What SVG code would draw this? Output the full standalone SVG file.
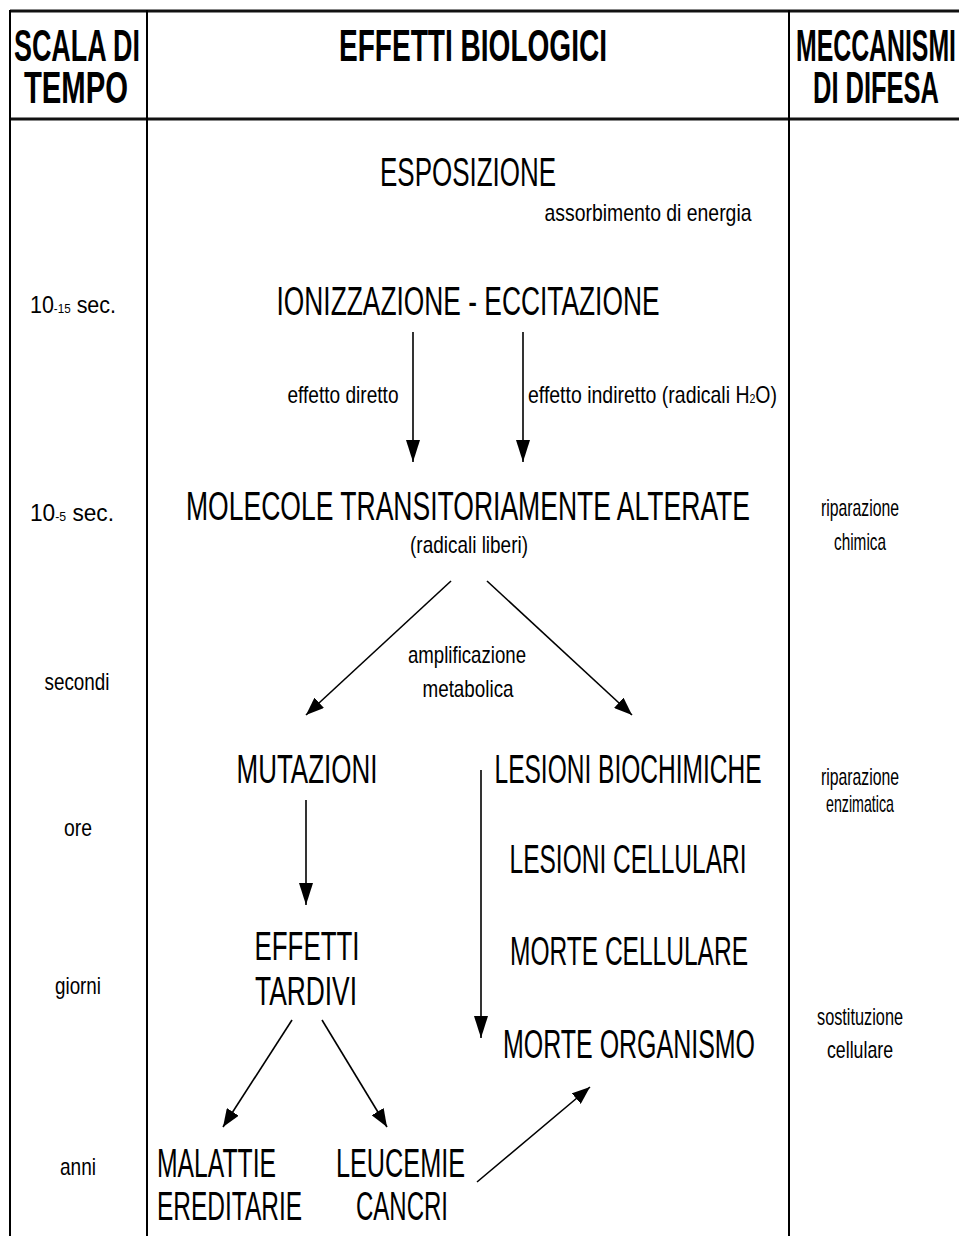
<svg xmlns="http://www.w3.org/2000/svg" width="959" height="1236" viewBox="0 0 959 1236">
<style>
.hd{font-family:"Liberation Sans Narrow","Liberation Sans",Arial,sans-serif;font-weight:bold;font-size:44px;fill:#000}
.big{font-family:"Liberation Sans Narrow","Liberation Sans",Arial,sans-serif;font-size:40px;fill:#000}
.sm{font-family:"Liberation Sans Narrow","Liberation Sans",Arial,sans-serif;font-size:24px;fill:#000}
.grid{stroke:#000;stroke-width:2;fill:none}
.hl{stroke:#111;stroke-width:3;fill:none}
.conn{stroke:#000;stroke-width:1.6;fill:none}
</style>
<defs>
<marker id="ah" markerUnits="userSpaceOnUse" markerWidth="22" markerHeight="14" refX="22" refY="7" orient="auto">
<path d="M0,0 L22,7 L0,14 z" fill="#000"/>
</marker>
<marker id="ahs" markerUnits="userSpaceOnUse" markerWidth="18" markerHeight="14" refX="18" refY="7" orient="auto">
<path d="M0,0 L18,7 L0,14 z" fill="#000"/>
</marker>
</defs>
<rect width="959" height="1236" fill="#fff"/>
<g id="table">
<line class="hl" x1="10" y1="11" x2="959" y2="11"/>
<line class="hl" x1="10" y1="119" x2="959" y2="119"/>
<line class="grid" x1="10" y1="10" x2="10" y2="1236"/>
<line class="grid" x1="147" y1="10" x2="147" y2="1236"/>
<line class="grid" x1="789" y1="10" x2="789" y2="1236"/>
</g>
<g id="headers">
<text class="hd" x="77" y="61" text-anchor="middle" textLength="126" lengthAdjust="spacingAndGlyphs">SCALA DI</text>
<text class="hd" x="76" y="103" text-anchor="middle" textLength="104" lengthAdjust="spacingAndGlyphs">TEMPO</text>
<text class="hd" x="473" y="61" text-anchor="middle" textLength="268" lengthAdjust="spacingAndGlyphs">EFFETTI BIOLOGICI</text>
<text class="hd" x="876" y="61" text-anchor="middle" textLength="160" lengthAdjust="spacingAndGlyphs">MECCANISMI</text>
<text class="hd" x="876" y="103" text-anchor="middle" textLength="126" lengthAdjust="spacingAndGlyphs">DI DIFESA</text>
</g>
<g id="timescale">
<text class="sm" x="73" y="313" text-anchor="middle" textLength="86" lengthAdjust="spacingAndGlyphs">10<tspan font-size="13">-15</tspan> sec.</text>
<text class="sm" x="72" y="521" text-anchor="middle" textLength="84" lengthAdjust="spacingAndGlyphs">10<tspan font-size="13">-5</tspan> sec.</text>
<text class="sm" x="77" y="690" text-anchor="middle" textLength="65" lengthAdjust="spacingAndGlyphs">secondi</text>
<text class="sm" x="78" y="836" text-anchor="middle" textLength="28" lengthAdjust="spacingAndGlyphs">ore</text>
<text class="sm" x="78" y="994" text-anchor="middle" textLength="46" lengthAdjust="spacingAndGlyphs">giorni</text>
<text class="sm" x="78" y="1175" text-anchor="middle" textLength="36" lengthAdjust="spacingAndGlyphs">anni</text>
</g>
<g id="defense">
<text class="sm" x="860" y="516" text-anchor="middle" textLength="78" lengthAdjust="spacingAndGlyphs">riparazione</text>
<text class="sm" x="860" y="550" text-anchor="middle" textLength="52" lengthAdjust="spacingAndGlyphs">chimica</text>
<text class="sm" x="860" y="785" text-anchor="middle" textLength="78" lengthAdjust="spacingAndGlyphs">riparazione</text>
<text class="sm" x="860" y="812" text-anchor="middle" textLength="68" lengthAdjust="spacingAndGlyphs">enzimatica</text>
<text class="sm" x="860" y="1025" text-anchor="middle" textLength="86" lengthAdjust="spacingAndGlyphs">sostituzione</text>
<text class="sm" x="860" y="1058" text-anchor="middle" textLength="66" lengthAdjust="spacingAndGlyphs">cellulare</text>
</g>
<g id="n-esposizione"><text class="big" x="468" y="186" text-anchor="middle" textLength="176" lengthAdjust="spacingAndGlyphs">ESPOSIZIONE</text></g>
<g id="n-assorbimento"><text class="sm" x="648" y="221" text-anchor="middle" textLength="207" lengthAdjust="spacingAndGlyphs">assorbimento di energia</text></g>
<g id="n-ionizzazione"><text class="big" x="468" y="315" text-anchor="middle" textLength="383" lengthAdjust="spacingAndGlyphs">IONIZZAZIONE - ECCITAZIONE</text></g>
<g id="n-diretto"><text class="sm" x="343" y="403" text-anchor="middle" textLength="111" lengthAdjust="spacingAndGlyphs">effetto diretto</text></g>
<g id="n-indiretto"><text class="sm" x="528" y="403" textLength="249" lengthAdjust="spacingAndGlyphs">effetto indiretto (radicali H<tspan font-size="13">2</tspan>O)</text></g>
<g id="n-molecole">
<text class="big" x="468" y="520" text-anchor="middle" textLength="564" lengthAdjust="spacingAndGlyphs">MOLECOLE TRANSITORIAMENTE ALTERATE</text>
<text class="sm" x="469" y="553" text-anchor="middle" textLength="118" lengthAdjust="spacingAndGlyphs">(radicali liberi)</text>
</g>
<g id="n-amplificazione">
<text class="sm" x="467" y="663" text-anchor="middle" textLength="118" lengthAdjust="spacingAndGlyphs">amplificazione</text>
<text class="sm" x="468" y="697" text-anchor="middle" textLength="91" lengthAdjust="spacingAndGlyphs">metabolica</text>
</g>
<g id="n-mutazioni"><text class="big" x="307" y="783" text-anchor="middle" textLength="141" lengthAdjust="spacingAndGlyphs">MUTAZIONI</text></g>
<g id="n-lesioni-bio"><text class="big" x="628" y="783" text-anchor="middle" textLength="267" lengthAdjust="spacingAndGlyphs">LESIONI BIOCHIMICHE</text></g>
<g id="n-lesioni-cell"><text class="big" x="628" y="873" text-anchor="middle" textLength="237" lengthAdjust="spacingAndGlyphs">LESIONI CELLULARI</text></g>
<g id="n-morte-cell"><text class="big" x="629" y="965" text-anchor="middle" textLength="238" lengthAdjust="spacingAndGlyphs">MORTE CELLULARE</text></g>
<g id="n-morte-org"><text class="big" x="629" y="1058" text-anchor="middle" textLength="252" lengthAdjust="spacingAndGlyphs">MORTE ORGANISMO</text></g>
<g id="n-tardivi">
<text class="big" x="307" y="960" text-anchor="middle" textLength="105" lengthAdjust="spacingAndGlyphs">EFFETTI</text>
<text class="big" x="306" y="1005" text-anchor="middle" textLength="102" lengthAdjust="spacingAndGlyphs">TARDIVI</text>
</g>
<g id="n-malattie">
<text class="big" x="157" y="1177" textLength="119" lengthAdjust="spacingAndGlyphs">MALATTIE</text>
<text class="big" x="157" y="1220" textLength="145" lengthAdjust="spacingAndGlyphs">EREDITARIE</text>
</g>
<g id="n-leucemie">
<text class="big" x="336" y="1177" textLength="129" lengthAdjust="spacingAndGlyphs">LEUCEMIE</text>
<text class="big" x="356" y="1220" textLength="92" lengthAdjust="spacingAndGlyphs">CANCRI</text>
</g>
<g id="connectors">
<line class="conn" x1="413" y1="332" x2="413" y2="462" marker-end="url(#ah)"/>
<line class="conn" x1="523" y1="332" x2="523" y2="462" marker-end="url(#ah)"/>
<line class="conn" x1="451" y1="581" x2="306" y2="715" marker-end="url(#ahs)"/>
<line class="conn" x1="487" y1="581" x2="632" y2="715" marker-end="url(#ahs)"/>
<line class="conn" x1="306" y1="800" x2="306" y2="905" marker-end="url(#ah)"/>
<line class="conn" x1="481" y1="770" x2="481" y2="1038" marker-end="url(#ah)"/>
<line class="conn" x1="292" y1="1020" x2="223" y2="1127" marker-end="url(#ahs)"/>
<line class="conn" x1="322" y1="1020" x2="387" y2="1127" marker-end="url(#ahs)"/>
<line class="conn" x1="477" y1="1182" x2="590" y2="1087" marker-end="url(#ahs)"/>
</g>
</svg>
